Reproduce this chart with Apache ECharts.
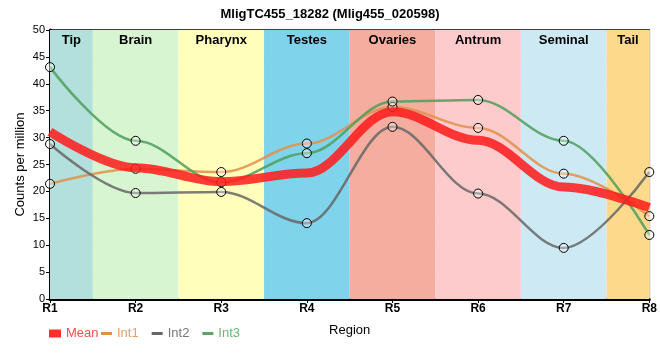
<!DOCTYPE html>
<html><head><meta charset="utf-8">
<script src="https://cdn.jsdelivr.net/npm/echarts@6/dist/echarts.min.js"></script>
<style>html,body{margin:0;padding:0;background:#fff}#c{width:660px;height:360px}</style>
</head><body><div id="c"></div>
<script>
const regions = ['R1','R2','R3','R4','R5','R6','R7','R8'];
const bandNames = ['Tip','Brain','Pharynx','Testes','Ovaries','Antrum','Seminal','Tail'];
const bandColors = ['#b3e0dc','#d7f5d0','#ffffbb','#7fd3ea','#f5ada0','#fecbcc','#cdeaf4','#fdd98b'];
const meanVals = [31.1, 24.4, 21.8, 23.4, 34.8, 29.5, 20.8, 17.0];
const int1Vals = [21.4, 24.2, 23.6, 28.9, 35.7, 31.8, 23.3, 15.4];
const int2Vals = [28.8, 19.7, 19.9, 14.1, 32.0, 19.6, 9.5, 23.6];
const int3Vals = [43.1, 29.4, 21.7, 27.1, 36.7, 37.0, 29.4, 11.9];
const yTicks = {min:0, max:50, interval:5};

const FONT = 'Liberation Sans, Arial, sans-serif';
const toXY = arr => arr.map((v,i)=>[i+1, v]);

const bands = bandNames.map((n,i)=>{
  const a = Math.max(1, i+0.5), b = Math.min(8, i+1.5);
  return [{xAxis:a, name:n, itemStyle:{color:bandColors[i]}}, {xAxis:b}];
});

const symStyle = {color:'rgba(255,255,255,0.35)', borderColor:'#000', borderWidth:1};
function intSeries(name, data, color){
  return {name, type:'line', data:toXY(data), smooth:0.35, smoothMonotone:'x',
    symbol:'circle', symbolSize:9, showSymbol:true,
    lineStyle:{color, width:2.5, opacity:0.85}, itemStyle:Object.assign({}, symStyle),
    emphasis:{disabled:true}, z:3};
}
function legItem(name, color, textColor){
  return {name, icon:'rect', itemStyle:{color, borderWidth:0, opacity:1}, textStyle:{color:textColor}};
}

const chart = echarts.init(document.getElementById('c'), null, {renderer:'canvas'});
chart.setOption({
  animation:false,
  title:{text:'MligTC455_18282 (Mlig455_020598)', left:'center', top:3,
    textStyle:{fontFamily:FONT, fontSize:13, fontWeight:'bold', color:'#000'}},
  grid:{left:50, right:10, top:30, bottom:61, show:true, borderColor:'#000', borderWidth:1.5},
  xAxis:{type:'value', min:1, max:8, interval:1,
    name:'Region', nameLocation:'middle', nameGap:25, nameMoveOverlap:false,
    nameTextStyle:{fontFamily:FONT, fontSize:13, color:'#000'},
    axisLine:{lineStyle:{color:'#000', width:3}},
    axisTick:{show:true, length:4, lineStyle:{color:'#000'}},
    axisLabel:{formatter:v=>regions[v-1]||'', fontFamily:FONT, fontSize:12, fontWeight:'bold', color:'#000', margin:4},
    splitLine:{show:true, lineStyle:{color:'#c8c8c8', width:1}}},
  yAxis:{type:'value', min:yTicks.min, max:yTicks.max, interval:yTicks.interval,
    name:'Counts per million', nameLocation:'middle', nameGap:23, nameMoveOverlap:false,
    nameTextStyle:{fontFamily:FONT, fontSize:13, color:'#000'},
    axisLine:{show:true, lineStyle:{color:'#000', width:3}},
    axisTick:{show:true, length:4, lineStyle:{color:'#000'}},
    axisLabel:{fontFamily:FONT, fontSize:11, color:'#000', margin:5},
    splitLine:{show:true, lineStyle:{color:'#c8c8c8', width:1}}},
  legend:[
    {data:[legItem('Mean','#ff3030','#ff4d4d')], left:44, top:322,
      itemWidth:12, itemHeight:8, itemGap:12,
      textStyle:{fontFamily:FONT, fontSize:13}},
    {data:[legItem('Int1','#e0904a','#e8a060'),
           legItem('Int2','#666666','#777777'),
           legItem('Int3','#5aa566','#6ab576')], left:96, top:322,
      itemWidth:11, itemHeight:3, itemGap:13,
      textStyle:{fontFamily:FONT, fontSize:13}}
  ],
  series:[
    {name:'bands', type:'line', data:[], silent:true,
      markArea:{silent:true, data:bands,
        label:{show:true, position:'insideTop', distance:4, fontFamily:FONT, fontSize:13, fontWeight:'bold', color:'#000'}}, z:1},
    {name:'Mean', type:'line', data:toXY(meanVals), smooth:0.35, smoothMonotone:'x', showSymbol:false, symbol:'none',
      lineStyle:{color:'#ff1a1a', width:9, opacity:0.85}, itemStyle:{color:'#ff3333'}, emphasis:{disabled:true}, z:4},
    intSeries('Int1', int1Vals, '#e0904a'),
    intSeries('Int2', int2Vals, '#666666'),
    intSeries('Int3', int3Vals, '#4f9d5c')
  ]
});
</script></body></html>
